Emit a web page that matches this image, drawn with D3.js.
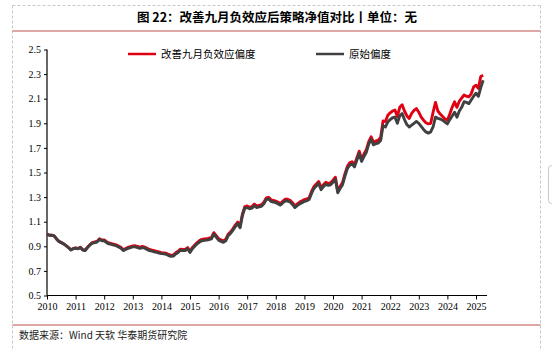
<!DOCTYPE html>
<html><head><meta charset="utf-8">
<script src="https://cdn.jsdelivr.net/npm/d3@7"></script>
<style>
html,body{margin:0;padding:0;background:#fff;}
svg{display:block;}
</style></head>
<body>
<svg id="c" width="552" height="351"></svg>
<script>
const title = "图 22：改善九月负效应后策略净值对比丨单位：无";
const source = "数据来源：Wind 天软 华泰期货研究院";
const seriesNames = ["改善九月负效应偏度", "原始偏度"];
const startYear = 2010;
const yTicks = [0.5,0.7,0.9,1.1,1.3,1.5,1.7,1.9,2.1,2.3,2.5];
const xTicks = [2010,2011,2012,2013,2014,2015,2016,2017,2018,2019,2020,2021,2022,2023,2024,2025];

// monthly values, Jan 2010 .. Apr 2025
const original = [
1.00,0.99,0.99,0.985,0.96,0.94,0.93,0.92,0.905,0.89,0.87,0.88,
0.885,0.88,0.89,0.87,0.865,0.89,0.91,0.925,0.93,0.935,0.955,0.945,
0.945,0.93,0.92,0.915,0.91,0.905,0.895,0.885,0.865,0.875,0.883,0.89,
0.895,0.895,0.89,0.883,0.89,0.885,0.875,0.865,0.86,0.855,0.85,0.845,
0.84,0.838,0.835,0.825,0.818,0.82,0.838,0.85,0.868,0.865,0.865,0.88,
0.85,0.88,0.9,0.92,0.935,0.945,0.948,0.95,0.955,0.96,1.0,0.975,
0.95,0.94,0.932,0.945,0.985,1.005,1.03,1.06,1.085,1.05,1.15,1.21,
1.215,1.205,1.21,1.23,1.215,1.22,1.225,1.245,1.28,1.285,1.265,1.26,
1.255,1.245,1.235,1.255,1.27,1.268,1.26,1.24,1.215,1.23,1.245,1.255,
1.265,1.27,1.28,1.33,1.37,1.39,1.41,1.36,1.385,1.405,1.395,1.40,
1.42,1.445,1.335,1.37,1.40,1.47,1.53,1.56,1.57,1.545,1.60,1.655,
1.59,1.63,1.665,1.73,1.77,1.725,1.735,1.74,1.76,1.88,1.87,1.91,
1.93,1.945,1.95,1.90,1.96,1.98,1.93,1.89,1.87,1.885,1.90,1.915,
1.90,1.875,1.85,1.83,1.82,1.83,1.87,1.95,1.94,1.935,1.925,1.91,
1.895,1.93,1.96,1.99,1.95,2.0,2.03,2.075,2.07,2.06,2.09,2.12,
2.145,2.12,2.19,2.25];
const improved = [
1.00,0.99,0.99,0.985,0.96,0.94,0.93,0.92,0.905,0.89,0.872,0.882,
0.887,0.882,0.892,0.872,0.868,0.893,0.913,0.929,0.935,0.94,0.961,0.951,
0.951,0.937,0.927,0.922,0.917,0.912,0.902,0.892,0.872,0.882,0.891,0.898,
0.903,0.904,0.899,0.892,0.899,0.894,0.884,0.874,0.869,0.864,0.859,0.854,
0.849,0.847,0.844,0.834,0.827,0.829,0.847,0.859,0.877,0.874,0.875,0.89,
0.86,0.89,0.91,0.93,0.946,0.956,0.959,0.961,0.966,0.971,1.011,0.986,
0.962,0.952,0.944,0.957,0.997,1.017,1.042,1.072,1.097,1.062,1.162,1.222,
1.228,1.218,1.223,1.243,1.228,1.233,1.238,1.258,1.293,1.298,1.278,1.273,
1.268,1.258,1.248,1.268,1.284,1.282,1.274,1.254,1.229,1.244,1.259,1.269,
1.28,1.285,1.295,1.346,1.386,1.406,1.426,1.376,1.401,1.421,1.411,1.416,
1.437,1.462,1.352,1.387,1.418,1.488,1.548,1.578,1.588,1.563,1.618,1.673,
1.61,1.65,1.685,1.75,1.79,1.745,1.757,1.762,1.785,1.92,1.915,1.965,
1.985,2.0,2.008,1.955,2.03,2.05,2.0,1.96,1.94,1.98,2.005,2.02,
1.99,1.95,1.925,1.905,1.895,1.9,1.99,2.07,2.0,1.975,1.955,1.935,
1.925,1.975,2.03,2.075,2.03,2.08,2.105,2.13,2.12,2.115,2.14,2.195,
2.21,2.185,2.28,2.29];

const svg = d3.select("#c");
const W = 552, H = 351;
const frameColor = "#c0504d";

// dashed frame
svg.append("line").attr("x1",12.5).attr("x2",540.5).attr("y1",5.5).attr("y2",5.5)
  .attr("stroke","#c8c8c8").attr("stroke-dasharray","3,2");
svg.append("line").attr("x1",12.5).attr("x2",12.5).attr("y1",5.5).attr("y2",H)
  .attr("stroke","#c8c8c8").attr("stroke-dasharray","3,2");
svg.append("line").attr("x1",540.5).attr("x2",540.5).attr("y1",5.5).attr("y2",H)
  .attr("stroke","#c8c8c8").attr("stroke-dasharray","3,2");
// side widget
svg.append("rect").attr("x",548.5).attr("y",165.5).attr("width",12).attr("height",38).attr("rx",3)
  .attr("fill","#fff").attr("stroke","#c8c8c8");

// title
svg.append("text").attr("x",277).attr("y",22).attr("text-anchor","middle")
  .attr("font-family","'Noto Sans CJK SC', sans-serif").attr("font-weight","bold")
  .attr("font-size",12.5).attr("fill","#000").attr("xml:space","preserve").text(title);
svg.append("line").attr("x1",12.5).attr("x2",540.5).attr("y1",31).attr("y2",31)
  .attr("stroke",frameColor).attr("stroke-width",1.2);
svg.append("line").attr("x1",12.5).attr("x2",540.5).attr("y1",325).attr("y2",325)
  .attr("stroke",frameColor).attr("stroke-width",1.2);
svg.append("text").attr("x",19).attr("y",339)
  .attr("font-family","'Noto Sans CJK SC', sans-serif")
  .attr("font-size",10).attr("fill","#222").text(source);

// scales
const x = d3.scaleLinear().domain([2010, 2025.385]).range([47, 487]);
const y = d3.scaleLinear().domain([0.5, 2.5]).range([295.5, 49.5]);

const tOf = i => startYear + i/12;

// axes
const ya = svg.append("g").attr("transform","translate(47,0)")
  .call(d3.axisLeft(y).tickValues(yTicks).tickFormat(d3.format(".1f")).tickSize(3).tickPadding(3));
const xa = svg.append("g").attr("transform","translate(0,295.5)")
  .call(d3.axisBottom(x).tickValues(xTicks).tickFormat(d3.format("d")).tickSize(4).tickPadding(3));
[ya,xa].forEach(a=>{
  a.select(".domain").attr("stroke","#000").attr("stroke-width",1.2);
  a.selectAll(".tick line").attr("stroke","#000");
  a.selectAll("text").attr("font-family","'Liberation Serif', 'Times New Roman', serif")
    .attr("font-size",10).attr("fill","#000");
});
ya.select(".domain").attr("d","M0,49.5V295.5");
xa.select(".domain").attr("d","M47,0H487");

// lines
const line = d3.line().x((d,i)=>x(tOf(i))).y(d=>y(d)).curve(d3.curveLinear);
svg.append("path").datum(improved).attr("d",line).attr("fill","none")
  .attr("stroke","#e00012").attr("stroke-width",2.9).attr("stroke-linejoin","round");
svg.append("path").datum(original).attr("d",line).attr("fill","none")
  .attr("stroke","#404040").attr("stroke-width",2.9).attr("stroke-linejoin","round");

// legend
const leg = [{name:seriesNames[0], color:"#e00012", x:128},{name:seriesNames[1], color:"#404040", x:316}];
leg.forEach(l=>{
  svg.append("line").attr("x1",l.x).attr("x2",l.x+28).attr("y1",54).attr("y2",54)
    .attr("stroke",l.color).attr("stroke-width",2.5);
  svg.append("text").attr("x",l.x+33).attr("y",57.8)
    .attr("font-family","'Noto Sans CJK SC', sans-serif").attr("font-size",10.5)
    .attr("fill","#000").text(l.name);
});
</script>
</body></html>
